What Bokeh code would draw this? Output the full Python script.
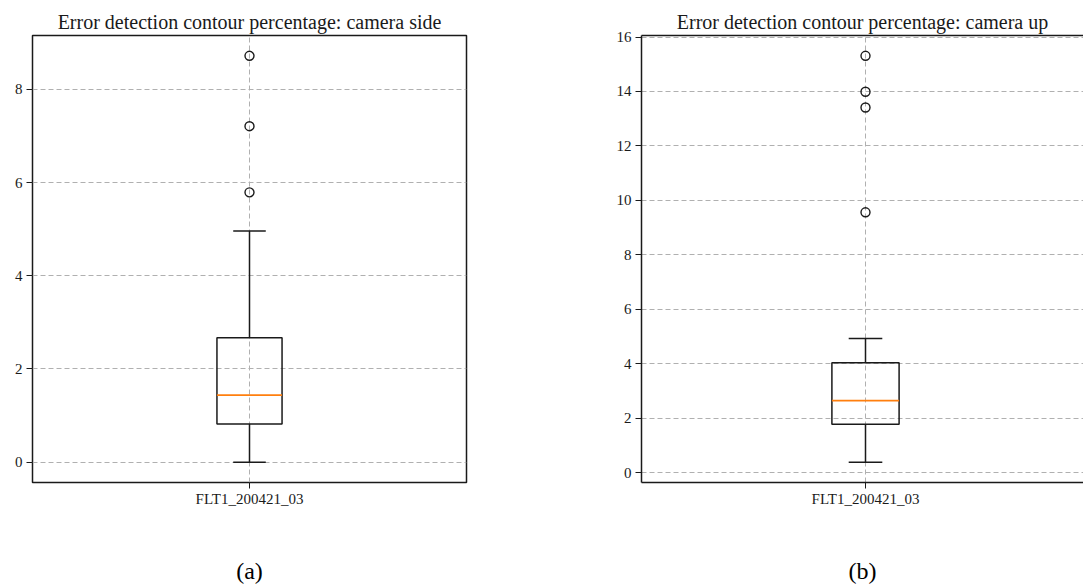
from bokeh.plotting import figure
from bokeh.layouts import row
from bokeh.models import Range1d, FixedTicker, SingleIntervalTicker, LinearAxis, ColumnDataSource
from bokeh.embed import file_html
from bokeh.resources import INLINE

# ---- data ----
categories = ["FLT1_200421_03"]
positions = [1]

side_low = [0.0]
side_q1 = [0.82]
side_median = [1.44]
side_q3 = [2.67]
side_high = [4.96]
side_outliers = [5.79, 7.21, 8.72]

up_low = [0.38]
up_q1 = [1.77]
up_median = [2.64]
up_q3 = [4.03]
up_high = [4.92]
up_outliers = [9.56, 13.41, 13.99, 15.31]

titles = ["Error detection contour percentage: camera side",
          "Error detection contour percentage: camera up"]
captions = ["(a)", "(b)"]

FONT = "Liberation Serif"
DARK = "#1a1a1a"
BOX_W = 0.15


def make_panel(title, caption, low, q1, med, q3, high, outliers,
               width, border_left, border_right, x_end, outline):
    ymin = min(low + outliers)
    ymax = max(high + outliers)
    pad = 0.05 * (ymax - ymin)
    p = figure(width=width, height=587, output_backend="svg", toolbar_location=None,
               x_range=Range1d(0.5, x_end), y_range=Range1d(ymin - pad, ymax + pad),
               min_border_left=border_left, min_border_right=border_right,
               min_border_top=35, min_border_bottom=105, title=title)
    p.title.text_font = FONT
    p.title.text_font_size = "20px"
    p.title.text_font_style = "normal"
    p.title.text_color = DARK
    p.title.align = "center"
    p.title.standoff = 6

    src = ColumnDataSource(dict(
        x=positions, low=low, q1=q1, med=med, q3=q3, high=high,
        x0=[v - BOX_W / 2 for v in positions], x1=[v + BOX_W / 2 for v in positions],
        c0=[v - BOX_W / 4 for v in positions], c1=[v + BOX_W / 4 for v in positions],
    ))
    # whiskers
    p.segment(x0="x", y0="q3", x1="x", y1="high", source=src, line_color=DARK, line_width=1.5)
    p.segment(x0="x", y0="q1", x1="x", y1="low", source=src, line_color=DARK, line_width=1.5)
    # caps
    p.segment(x0="c0", y0="high", x1="c1", y1="high", source=src, line_color=DARK, line_width=1.5)
    p.segment(x0="c0", y0="low", x1="c1", y1="low", source=src, line_color=DARK, line_width=1.5)
    # box
    p.quad(left="x0", right="x1", bottom="q1", top="q3", source=src,
           fill_color=None, line_color=DARK, line_width=1.5)
    # median
    p.segment(x0="x0", y0="med", x1="x1", y1="med", source=src, line_color="#ff7f0e", line_width=1.8)
    # outliers
    p.scatter(x=[positions[0]] * len(outliers), y=outliers, size=9, marker="circle",
              fill_color=None, line_color=DARK, line_width=1.4)

    # axes
    p.xaxis.ticker = FixedTicker(ticks=positions)
    p.xaxis.major_label_overrides = {positions[0]: categories[0]}
    p.yaxis.ticker = SingleIntervalTicker(interval=2)
    for ax in (p.xaxis[0], p.yaxis[0]):
        ax.major_label_text_font = FONT
        ax.major_label_text_font_size = "15px"
        ax.major_label_text_color = DARK
        ax.major_tick_out = 6
        ax.major_tick_in = 0
        ax.major_tick_line_color = DARK
        ax.minor_tick_line_color = None
        ax.major_label_standoff = 4
        ax.axis_line_color = DARK if not outline else None
        ax.axis_line_width = 1.5
    p.xaxis.major_label_standoff = 2
    p.xaxis.axis_label = caption
    p.xaxis.axis_label_text_font = FONT
    p.xaxis.axis_label_text_font_size = "24px"
    p.xaxis.axis_label_text_font_style = "normal"
    p.xaxis.axis_label_text_color = "black"
    p.xaxis.axis_label_standoff = 48

    # grid
    for g in (p.xgrid[0], p.ygrid[0]):
        g.grid_line_color = "#b0b0b0"
        g.grid_line_dash = "5 3"
        g.grid_line_width = 1

    if outline:
        p.outline_line_color = DARK
        p.outline_line_width = 1.5
        p.outline_line_alpha = 1.0
    else:
        p.outline_line_color = None
        top = LinearAxis(ticker=FixedTicker(ticks=[]), major_label_text_font_size="0px",
                         major_tick_line_color=None, minor_tick_line_color=None,
                         axis_line_color=DARK, axis_line_width=1.5, major_label_standoff=0)
        p.add_layout(top, "above")

    p.background_fill_color = "white"
    p.border_fill_color = "white"
    return p


left = make_panel(titles[0], captions[0], side_low, side_q1, side_median, side_q3, side_high,
                  side_outliers, width=540, border_left=32, border_right=74, x_end=1.5, outline=True)
right = make_panel(titles[1], captions[1], up_low, up_q1, up_median, up_q3, up_high,
                   up_outliers, width=543, border_left=101, border_right=0,
                   x_end=0.5 + 442 / 448, outline=False)

layout = row(left, right)
open("out.html", "w").write(file_html(layout, INLINE))
